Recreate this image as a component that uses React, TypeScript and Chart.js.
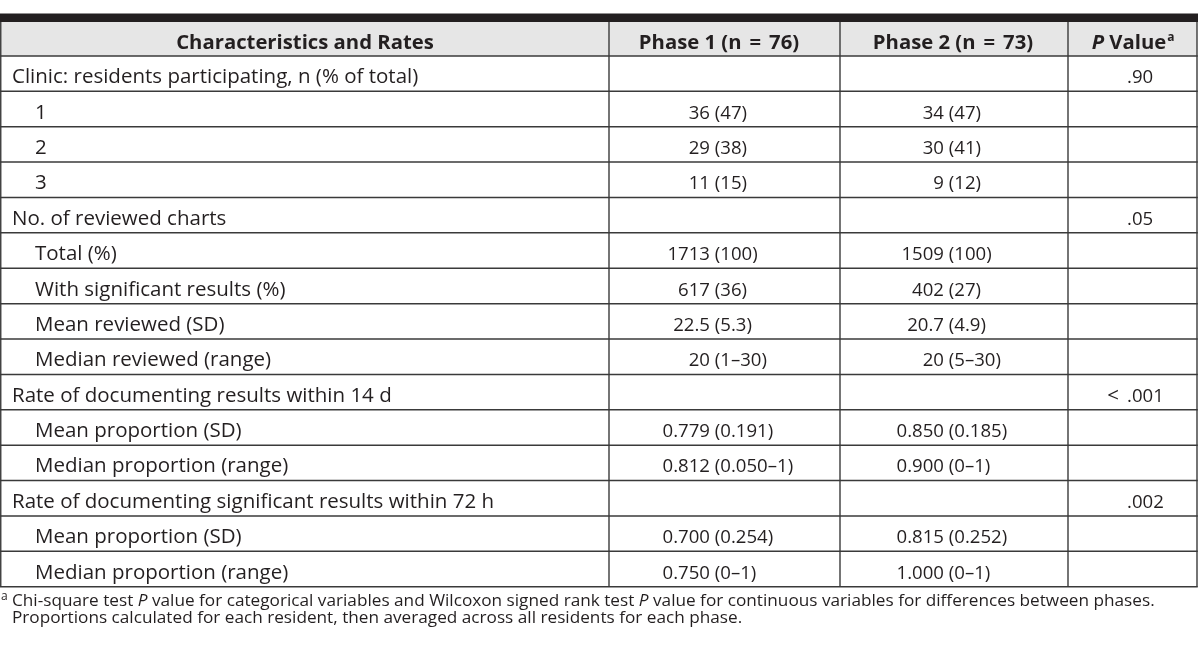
import React, { useEffect, useRef } from "react";
import { Chart, registerables } from "chart.js";

Chart.register(...registerables);

// ---------- DATA ----------
const columnHeaders = ["Characteristics and Rates", "Phase 1 (n = 76)", "Phase 2 (n = 73)", "*P* Value"];
const headerFootnoteMark = "a";

const rowLabels = [
  "Clinic: residents participating, n (% of total)",
  "1",
  "2",
  "3",
  "No. of reviewed charts",
  "Total (%)",
  "With significant results (%)",
  "Mean reviewed (SD)",
  "Median reviewed (range)",
  "Rate of documenting results within 14 d",
  "Mean proportion (SD)",
  "Median proportion (range)",
  "Rate of documenting significant results within 72 h",
  "Mean proportion (SD)",
  "Median proportion (range)",
];
const rowLevels = [0, 1, 1, 1, 0, 1, 1, 1, 1, 0, 1, 1, 0, 1, 1];

const phase1Values = ["", "36 (47)", "29 (38)", "11 (15)", "", "1713 (100)", "617 (36)", "22.5 (5.3)", "20 (1–30)", "", "0.779 (0.191)", "0.812 (0.050–1)", "", "0.700 (0.254)", "0.750 (0–1)"];
const phase2Values = ["", "34 (47)", "30 (41)", "9 (12)", "", "1509 (100)", "402 (27)", "20.7 (4.9)", "20 (5–30)", "", "0.850 (0.185)", "0.900 (0–1)", "", "0.815 (0.252)", "1.000 (0–1)"];
const pValues = [".90", "", "", "", ".05", "", "", "", "", "< .001", "", "", ".002", "", ""];

const footnoteLines = [
  "Chi-square test *P* value for categorical variables and Wilcoxon signed rank test *P* value for continuous variables for differences between phases.",
  "Proportions calculated for each resident, then averaged across all residents for each phase.",
];

// ---------- LAYOUT / STYLE ----------
const W = 1200;
const H = 654;
const FONT = "'Open Sans', 'Noto Sans', sans-serif";
const TEXT = "#231f20";
const LINE = "#3a3a3a";
const HEADER_BG = "#e6e6e6";
const COL_EDGES = [0.75, 609, 840, 1068, 1197];
const BAR_TOP = -1.2;
const HEADER_TOP = -0.96;
const ROWS = rowLabels.length;
const BODY_SIZE = 20.5;
const NUM_SIZE = 18.6;
const HEAD_SIZE = 20.3;
const FOOT_SIZE = 17.2;

function drawRich(ctx: CanvasRenderingContext2D, text: string, x: number, y: number, size: number, bold: boolean, align: "left" | "center", eqGap = 0) {
  const parts = text.split("*");
  const fontFor = (i: number) => `${i % 2 === 1 ? "italic " : ""}${bold ? "bold " : ""}${size}px ${FONT}`;
  const pieces: { t: string; f: string; gap: number }[] = [];
  parts.forEach((p, i) => {
    const eq = p.split(" = ");
    eq.forEach((s, j) => {
      if (j > 0) pieces.push({ t: "=", f: fontFor(i), gap: eqGap });
      pieces.push({ t: s, f: fontFor(i), gap: 0 });
    });
  });
  let total = 0;
  pieces.forEach((p) => {
    ctx.font = p.f;
    total += ctx.measureText(p.t).width + 2 * p.gap;
  });
  let cx = align === "center" ? x - total / 2 : x;
  ctx.textAlign = "left";
  pieces.forEach((p) => {
    ctx.font = p.f;
    cx += p.gap;
    ctx.fillText(p.t, cx, y);
    cx += ctx.measureText(p.t).width + p.gap;
  });
  return cx;
}

function drawValue(ctx: CanvasRenderingContext2D, v: string, anchor: number, y: number) {
  if (!v) return;
  const idx = v.indexOf(" (");
  const num = idx >= 0 ? v.slice(0, idx) : v;
  const rest = idx >= 0 ? v.slice(idx) : "";
  ctx.textAlign = "right";
  ctx.fillText(num, anchor, y);
  ctx.textAlign = "left";
  ctx.fillText(rest, anchor, y);
}

const tablePlugin = {
  id: "tableDraw",
  beforeDraw(chart: any) {
    const { ctx } = chart;
    const xs = chart.scales.x;
    const ys = chart.scales.y;
    ctx.save();
    ctx.fillStyle = "#ffffff";
    ctx.fillRect(0, 0, chart.width, chart.height);
    const l = xs.getPixelForValue(COL_EDGES[0]);
    const r = xs.getPixelForValue(COL_EDGES[COL_EDGES.length - 1]);
    const t = ys.getPixelForValue(HEADER_TOP);
    const b = ys.getPixelForValue(0);
    ctx.fillStyle = HEADER_BG;
    ctx.fillRect(l, t, r - l, b - t);
    ctx.restore();
  },
  afterDraw(chart: any) {
    const { ctx } = chart;
    const xs = chart.scales.x;
    const ys = chart.scales.y;
    const px = (v: number) => xs.getPixelForValue(v);
    const py = (v: number) => ys.getPixelForValue(v);
    ctx.save();
    const left = px(COL_EDGES[0]);
    const right = px(COL_EDGES[COL_EDGES.length - 1]);

    // grid lines
    ctx.strokeStyle = LINE;
    ctx.lineWidth = 1.5;
    for (let i = 0; i <= ROWS; i++) {
      const yy = py(i);
      ctx.beginPath();
      ctx.moveTo(left - 0.75, yy);
      ctx.lineTo(right + 0.75, yy);
      ctx.stroke();
    }
    ctx.lineWidth = 1.4;
    COL_EDGES.forEach((e) => {
      ctx.beginPath();
      ctx.moveTo(px(e), py(HEADER_TOP));
      ctx.lineTo(px(e), py(ROWS));
      ctx.stroke();
    });

    // top black bar
    ctx.fillStyle = TEXT;
    ctx.fillRect(0, py(BAR_TOP), right + 1, py(HEADER_TOP) - py(BAR_TOP));

    ctx.fillStyle = TEXT;
    ctx.textBaseline = "alphabetic";
    const baseOff = 9.6;

    // header
    const hy = (py(HEADER_TOP) + py(0)) / 2 + baseOff;
    const headerCenters = [305, 719, 953, 1129];
    columnHeaders.forEach((h, i) => {
      const endX = drawRich(ctx, h, px(headerCenters[i]), hy, HEAD_SIZE, true, "center", 8);
      if (i === 3) {
        ctx.font = `bold 12px ${FONT}`;
        ctx.textAlign = "left";
        ctx.fillText(headerFootnoteMark, endX + 1, hy - 8);
      }
    });

    // rows
    for (let i = 0; i < ROWS; i++) {
      const y = (py(i) + py(i + 1)) / 2 + baseOff;
      ctx.font = `${BODY_SIZE}px ${FONT}`;
      ctx.textAlign = "left";
      ctx.fillText(rowLabels[i], px(rowLevels[i] ? 35 : 12), y);
      ctx.font = `${NUM_SIZE}px ${FONT}`;
      drawValue(ctx, phase1Values[i], px(710), y);
      drawValue(ctx, phase2Values[i], px(944), y);
      const p = pValues[i];
      if (p) {
        const dot = p.indexOf(".");
        const pre = p.slice(0, dot).trim();
        ctx.textAlign = "left";
        ctx.fillText(p.slice(dot), px(1127), y);
        if (pre) {
          ctx.font = `${BODY_SIZE}px ${FONT}`;
          ctx.textAlign = "right";
          ctx.fillText(pre, px(1119), y);
        }
      }
    }

    // footnote
    const fy0 = py(ROWS);
    ctx.font = `12px ${FONT}`;
    ctx.textAlign = "left";
    ctx.fillText(headerFootnoteMark, 1, fy0 + 13.5);
    footnoteLines.forEach((line, i) => {
      drawRich(ctx, line, 12, fy0 + 19 + i * 17.6, FOOT_SIZE, false, "left");
    });
    ctx.restore();
  },
};

export default function App() {
  const canvasRef = useRef<HTMLCanvasElement | null>(null);
  useEffect(() => {
    let chart: Chart | null = null;
    let cancelled = false;
    const make = () => {
      if (cancelled || !canvasRef.current) return;
      chart = new Chart(canvasRef.current, {
        type: "scatter",
        data: { datasets: [{ data: [] }] },
        options: {
          animation: false,
          responsive: false,
          devicePixelRatio: 1,
          layout: { padding: { top: 13.5, bottom: H - 586.7, left: 0, right: 0 } },
          plugins: { legend: { display: false }, tooltip: { enabled: false } },
          events: [],
          scales: {
            x: { type: "linear", min: 0, max: W, display: false },
            y: { type: "linear", min: BAR_TOP, max: ROWS, reverse: true, display: false },
          },
        },
        plugins: [tablePlugin],
      });
    };
    const fonts = (document as any).fonts;
    if (fonts && fonts.load) {
      Promise.all([
        fonts.load(`20px "Open Sans"`),
        fonts.load(`bold 20px "Open Sans"`),
        fonts.load(`italic 17px "Open Sans"`),
        fonts.load(`italic bold 20px "Open Sans"`),
      ]).then(make, make);
    } else make();
    return () => {
      cancelled = true;
      if (chart) chart.destroy();
    };
  }, []);
  return (
    <div style={{ position: "absolute", left: 0, top: 0, width: W, height: H, background: "#fff" }}>
      <canvas ref={canvasRef} width={W} height={H} style={{ display: "block", width: W, height: H }} />
    </div>
  );
}
